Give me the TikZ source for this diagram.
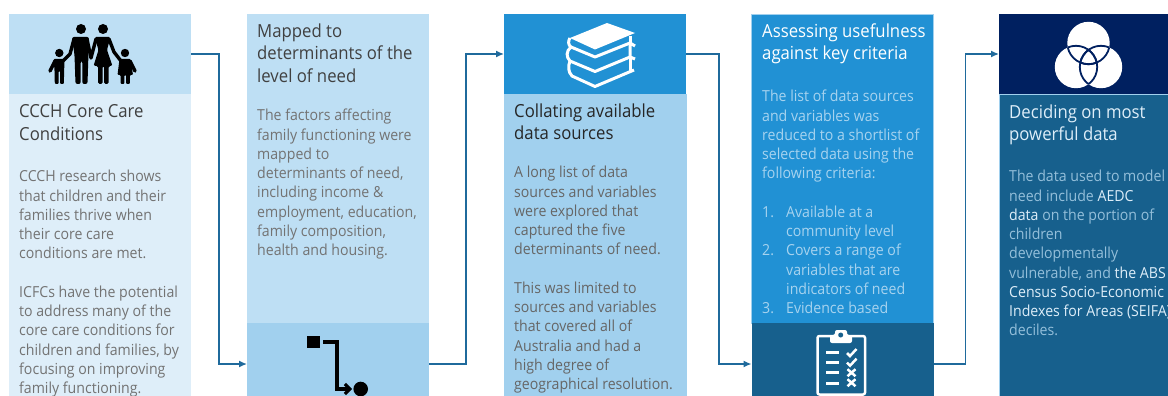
\documentclass[tikz,border=0pt]{standalone}
\usepackage{fontspec}
\setmainfont[FakeStretch=0.93]{Open Sans}
\usepackage{tikz}
\usetikzlibrary{arrows.meta,positioning}

\definecolor{pale}{HTML}{DEEEF9}
\definecolor{light}{HTML}{BEDFF4}
\definecolor{mid}{HTML}{A1D0EE}
\definecolor{strong}{HTML}{2191D4}
\definecolor{deep}{HTML}{17608D}
\definecolor{navy}{HTML}{002060}
\definecolor{flowline}{HTML}{1F6A9C}

\newcommand{\listno}[1]{\makebox[24pt][l]{#1}}

\begin{document}
\begin{tikzpicture}[x=1pt,y=-1pt,node distance=0pt,
  panel/.style={rectangle,inner sep=0pt,outer sep=0pt,minimum width=182pt},
  seam/.style={draw=mid,line width=.5pt},
  head/.style={panel,minimum height=80pt},
  foot/.style={panel,minimum height=82pt},
  title/.style={inner sep=0pt,align=left,anchor=north west,font=\fontsize{18}{22.5}\selectfont},
  copy/.style={inner sep=0pt,align=left,anchor=north west,font=\fontsize{15.2}{19.25}\selectfont},
  flow/.style={draw=flowline,line width=1.4pt,-{Latex[length=8pt,width=7pt]}}]
  \useasboundingbox (0,0) rectangle (1168,396);
  \clip (0,0) rectangle (1168,396);

  % heads and bodies
  \node[head,fill=light] (head1) at (100,54) {};
  \node[head,fill=strong,right=313pt of head1] (head3) {};
  \node[head,fill=navy,right=313pt of head3] (head5) {};
  \node[panel,fill=pale,minimum height=311pt,below=of head1] (body1) {};
  \node[panel,fill=mid,seam,minimum height=311pt,below=of head3] (body3) {};
  \node[panel,fill=deep,seam,minimum height=311pt,below=of head5] (body5) {};
  \node[panel,fill=light,minimum height=309pt] (body2) at (338,168.5) {};
  \node[panel,fill=strong,seam,minimum height=309pt] (body4) at (842.5,168.5) {};
  % foots
  \node[foot,fill=mid,below=of body2] (foot2) {};
  \node[foot,fill=deep,below=of body4] (foot4) {};

  \draw[flow] (head1.east) -- ++(28,0) |- (foot2.west);
  \draw[flow] (foot2.east) -- ++(37,0) |- (head3.west);
  \draw[flow] (head3.east) -- ++(33,0) |- (foot4.west);
  \draw[flow] (foot4.east) -- ++(32,0) |- (head5.west);

  % texts
  \node[title,text=black!75] (title1) at (19,104.5) {CCCH Core Care\\Conditions};
  \node[copy,text=black!55] (copy1) at (19,170) {CCCH research shows\\that children and their\\families thrive when\\their core care\\conditions are met.\\[19.25pt]ICFCs have the potential\\to address many of the\\core care conditions for\\children and families, by\\focusing on improving\\family functioning.};
  \node[title,text=black!75] (title2) at (257,23.5) {Mapped to\\determinants of the\\level of need};
  \node[copy,text=black!55] (copy2) at (257,109) {The factors affecting\\family functioning were\\mapped to\\determinants of need,\\including income \&\\employment, education,\\family composition,\\health and housing.};
  \node[title,text=black!85] (title3) at (514,103.5) {Collating available\\data sources};
  \node[copy,text=black!60] (copy3) at (514,166) {A long list of data\\sources and variables\\were explored that\\captured the five\\determinants of need.\\[19.25pt]This was limited to\\sources and variables\\that covered all of\\Australia and had a\\high degree of\\geographical resolution.};
  \node[title,text=white] (title4) at (762,23.5) {Assessing usefulness\\against key criteria};
  \node[copy,text=light!85!strong] (copy4) at (762,90) {The list of data sources\\and variables was\\reduced to a shortlist of\\selected data using the\\following criteria:\\[19.25pt]\listno{1.}Available at a\\\listno{}community level\\\listno{2.}Covers a range of\\\listno{}variables that are\\\listno{}indicators of need\\\listno{3.}Evidence based};
  \node[title,text=pale] (title5) at (1009,104.5) {Deciding on most\\powerful data};
  \node[copy,text=light!75!deep] (copy5) at (1009,170) {The data used to model\\need include \textcolor{pale}{AEDC}\\\textcolor{pale}{data} on the portion of\\children\\developmentally\\vulnerable, and \textcolor{pale}{the ABS}\\\textcolor{pale}{Census Socio-Economic}\\\textcolor{pale}{Indexes for Areas (SEIFA)}\\deciles.};

  % family
  \begin{scope}[black]
    \foreach \hx/\hy/\hr in {81/29/5,103/29/5,59.3/53/4.2,125/53/4.2}
      \fill (\hx,\hy) circle (\hr);
    \fill[rounded corners=2pt] (72,37) -- (89,37) -- (87.5,84) -- (82.3,84) -- (82.3,61) -- (80.7,61) -- (80.7,84) -- (75.5,84) -- (74.5,55) -- cycle;
    \fill[rounded corners=1.5pt] (94.5,37) -- (110.5,37) -- (107,50) -- (112.5,66) -- (108.5,66) -- (108.5,84) -- (104,84) -- (104,66) -- (102.5,66) -- (102.5,84) -- (98,84) -- (98,66) -- (93.5,66) -- (98.5,50) -- cycle;
    \fill[rounded corners=1pt] (53.5,59) -- (64.5,59) -- (63.8,84) -- (60,84) -- (60,71) -- (58.7,71) -- (58.7,84) -- (54.8,84) -- (54.5,70) -- cycle;
    \fill[rounded corners=1pt] (119.5,59) -- (130.5,59) -- (133,75) -- (129.8,75) -- (129.8,84) -- (126,84) -- (126,75) -- (124.3,75) -- (124.3,84) -- (120.5,84) -- (120.5,75) -- (117.5,75) -- cycle;
    \draw[line width=3.4pt,line cap=round,line join=round] (74,39) -- (70,54) -- (63,61) (55,61) -- (50,71);
    \draw[line width=3.4pt,line cap=round,line join=round] (87,39) -- (91,58) -- (96,39);
    \draw[line width=3.4pt,line cap=round,line join=round] (109,39) -- (114,52) -- (121,61) (130,61) -- (135,71);
  \end{scope}

  % books
  \begin{scope}[white,line width=3pt,line join=round]
    \fill (570,38) -- (607,23) -- (635,33) -- (595,49.5) -- cycle;
    \draw (570,38) .. controls (568,41) and (568,45) .. (571,47) -- (595,57) -- (630,43);
    \draw (630,36) -- (630,43);
    \draw (571,47) .. controls (566,51) and (566,57) .. (570,61) -- (595,71.5) -- (630,57);
    \draw (630,43) -- (635,46) (630,43) -- (630,57) -- (635,59);
    \draw (570,61) .. controls (568,66) and (568,72) .. (572,76) -- (595,86.5) -- (634,70);
    \draw (630,57) -- (630,71);
  \end{scope}

  % clipboard
  \begin{scope}[white]
    \draw[line width=2.5pt,rounded corners=2pt] (817.5,336) rectangle (865,394.5);
    \fill[rounded corners=2pt] (830,343) -- (830,335) -- (835,335) -- (835,330) -- (847,330) -- (847,335) -- (852,335) -- (852,343) -- cycle;
    \fill[deep] (840.7,335) circle (2.5);
    \foreach \ly in {352.7,362.7,372.7,383.3}
      \draw[line width=2.5pt] (826,\ly) -- (839.3,\ly);
    \foreach \ly in {353,362.7}
      \draw[line width=2.5pt] (847,\ly) -- (850,\ly+3) -- (856.5,\ly-4);
    \foreach \ly in {372.7,382.7}
      \draw[line width=2.5pt] (847.5,\ly-3.5) -- (855.5,\ly+3.5) (847.5,\ly+3.5) -- (855.5,\ly-3.5);
  \end{scope}

  % overlapping circles
  \foreach \cx/\cy in {1088.5/43,1076/67,1101/67}
    \fill[white] (\cx,\cy) circle (21.2);
  \foreach \cx/\cy/\ox/\oy in {1088.5/43/1076/67,1088.5/43/1101/67,1076/67/1088.5/43,1076/67/1101/67,1101/67/1088.5/43,1101/67/1076/67}{
    \begin{scope}
      \clip (\ox,\oy) circle (21.2);
      \draw[navy,line width=1.8pt] (\cx,\cy) circle (21.2);
    \end{scope}
  }

  % route
  \node[rectangle,fill=black,inner sep=0pt,minimum size=12.5pt] (square) at (313.6,342) {};
  \node[circle,fill=black,inner sep=0pt,minimum size=14.6pt] (dot) at (360.7,389) {};
  \draw[line width=3.2pt,-{Straight Barb[length=5pt,width=10pt]},shorten <=3pt,shorten >=1pt] (square.east) -- ++(17,0) |- (dot.west);
\end{tikzpicture}
\end{document}
